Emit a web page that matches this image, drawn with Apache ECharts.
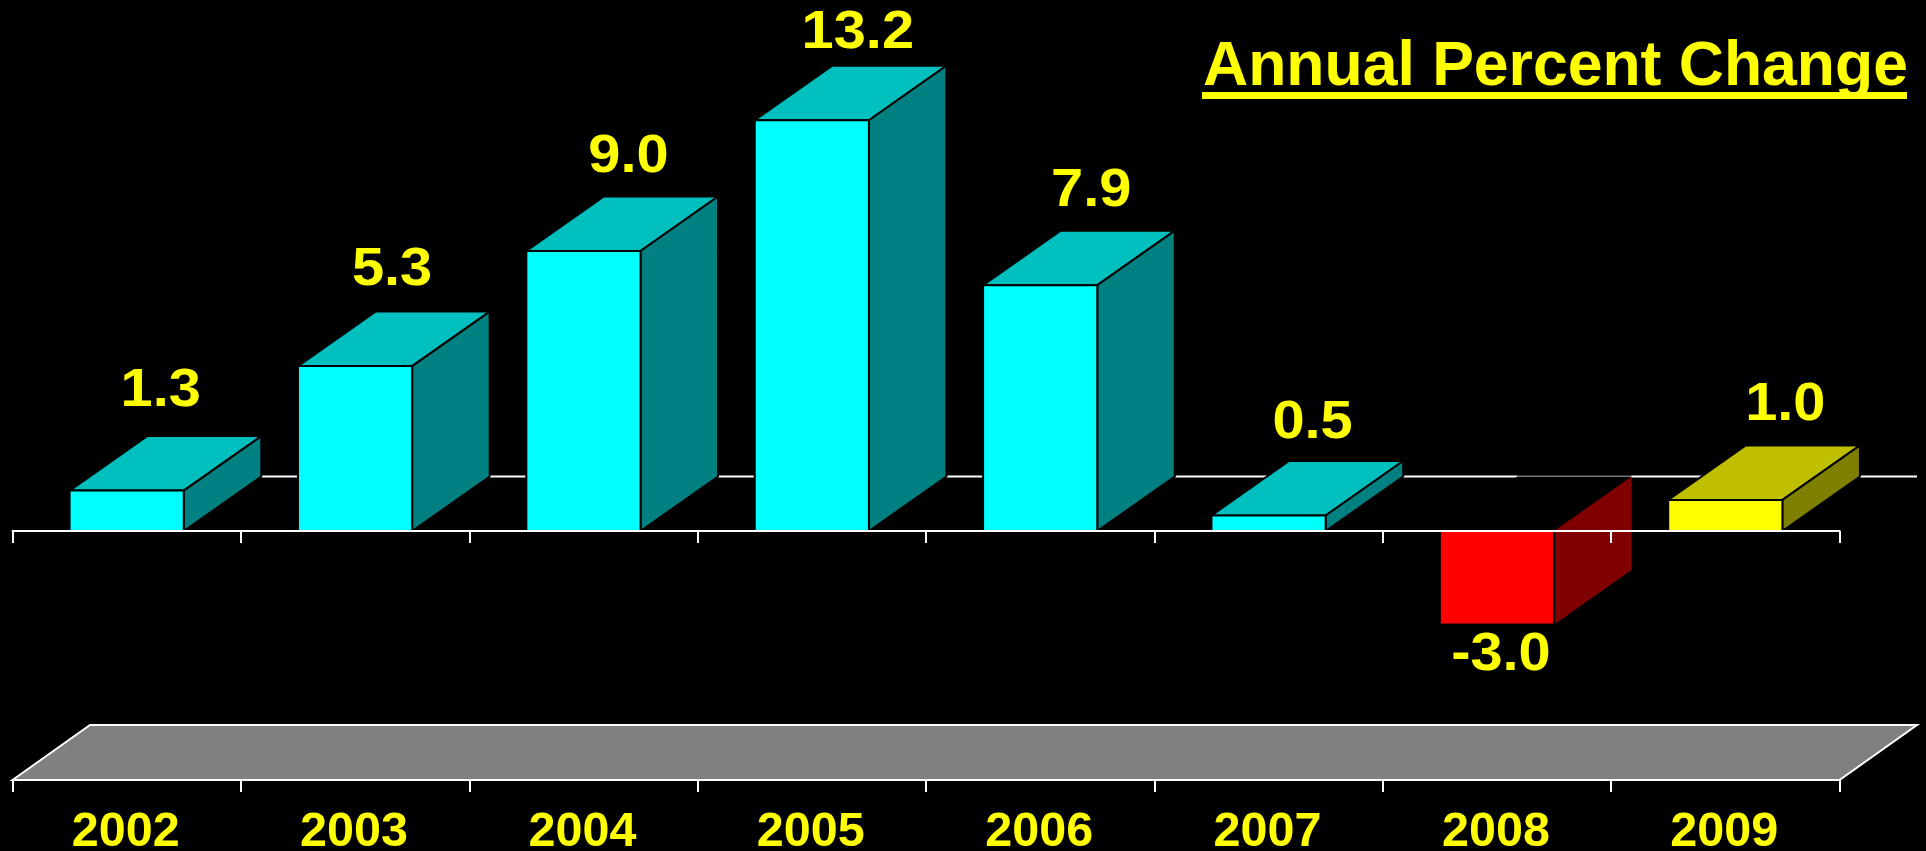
<!DOCTYPE html>
<html>
<head>
<meta charset="utf-8">
<style>html,body{margin:0;padding:0;background:#000;overflow:hidden}#c{width:1926px;height:851px}</style>
<script src="https://cdn.jsdelivr.net/npm/echarts@6/dist/echarts.min.js"></script>
</head>
<body>
<div id="c"></div>
<script>
const years = ['2002','2003','2004','2005','2006','2007','2008','2009'];
const percentChange = [1.3, 5.3, 9.0, 13.2, 7.9, 0.5, -3.0, 1.0];
const yMin = -8;
const yMax = 17;

// layout tweaks, kept apart from the data
const labelShiftX = [34, 37, 45, 46, 51, 44, 4, 60];
const labelGap = [45, 41, 39, 33, 40, 38, 31, 40];
const depthX = 77.5, depthY = 54.5;
const FONT = '"Liberation Sans", Arial, sans-serif';

const palette = {
  up:   {front:'#00FFFF', top:'#00BFBF', side:'#008080'},
  last: {front:'#FFFF00', top:'#BFBF00', side:'#808000'},
  down: {front:'#FF0000', top:'#000000', side:'#800000'}
};

function poly(points, fill, stroke, lw) {
  return {type:'polygon', shape:{points}, style:{fill, stroke, lineWidth:lw, lineJoin:'miter'}};
}

function renderBar(params, api) {
  const i = api.value(0), v = api.value(1);
  const base = api.coord([i, 0]);
  const head = api.coord([i, v]);
  const w = api.size([1, 0])[0] * 0.5;
  const xl = base[0] - w / 2, xr = base[0] + w / 2;
  const hi = Math.min(base[1], head[1]), lo = Math.max(base[1], head[1]);
  const c = v < 0 ? palette.down : (i === years.length - 1 ? palette.last : palette.up);
  const textY = v < 0 ? lo + labelGap[i] : hi - depthY - labelGap[i];
  const children = [
    poly([[xl,hi],[xr,hi],[xr+depthX,hi-depthY],[xl+depthX,hi-depthY]], c.top, v < 0 ? 'transparent' : '#000', 2),
    poly([[xr,lo],[xr+depthX,lo-depthY],[xr+depthX,hi-depthY],[xr,hi]], c.side, v < 0 ? 'transparent' : '#000', 2),
    poly([[xl,hi],[xr,hi],[xr,lo],[xl,lo]], c.front, '#000', 2),
    {type:'text', x:base[0] + labelShiftX[i], y:textY, scaleX:1.07,
     style:{text:v.toFixed(1), fill:'#FFFF00', font:'bold 54px ' + FONT, align:'center', verticalAlign:'middle'}}
  ];
  if (v < 0) {
    children.push({type:'line', shape:{x1:xl+depthX, y1:hi-depthY-1, x2:xr+depthX, y2:hi-depthY-1},
      style:{stroke:'#333333', lineWidth:1}});
  }
  return {type:'group', children};
}

function renderFloor(params, api) {
  const s = params.coordSys;
  const yF = s.y + s.height, xL = s.x, xR = s.x + s.width;
  const zeroY = api.coord([0, 0])[1];
  return {type:'group', children:[
    {type:'line', shape:{x1:xL+depthX, y1:zeroY-depthY, x2:xR+depthX, y2:zeroY-depthY},
     style:{stroke:'#FFFFFF', lineWidth:2}},
    poly([[xL,yF],[xL+depthX,yF-depthY-0.5],[xR+depthX,yF-depthY-0.5],[xR,yF]], '#808080', '#FFFFFF', 2)
  ]};
}

const chart = echarts.init(document.getElementById('c'), null, {renderer:'canvas'});
chart.setOption({
  backgroundColor:'#000000',
  animation:false,
  title:{
    text:'Annual Percent Change', left:1198, top:31,
    textStyle:{color:'#FFFF00', fontFamily:FONT, fontWeight:'bold', fontSize:62.5}
  },
  graphic:[{type:'rect', shape:{x:1202, y:92, width:705, height:7}, style:{fill:'#FFFF00'}, z:10}],
  grid:{left:12.5, width:1827, top:2, height:778, outerBoundsMode:'none'},
  xAxis:[
    {type:'category', data:years, position:'bottom', z:5,
     axisLine:{show:true, onZero:true, lineStyle:{color:'#FFFFFF', width:2}},
     axisTick:{show:true, length:12, lineStyle:{color:'#FFFFFF', width:2}},
     axisLabel:{show:false}, splitLine:{show:false}},
    {type:'category', data:years, position:'bottom', z:5,
     axisLine:{show:true, onZero:false, lineStyle:{color:'#FFFFFF', width:2}},
     axisTick:{show:true, length:12, lineStyle:{color:'#FFFFFF', width:2}},
     axisLabel:{show:true, color:'#FFFF00', fontFamily:FONT, fontWeight:'bold', fontSize:48.5, margin:28, padding:[0,2,0,0]},
     splitLine:{show:false}}
  ],
  yAxis:{type:'value', min:yMin, max:yMax, show:false, splitLine:{show:false}},
  series:[
    {type:'custom', z:1, silent:true, xAxisIndex:0, renderItem:renderFloor, data:[[0, 0]], clip:false},
    {type:'custom', z:2, silent:true, xAxisIndex:0, renderItem:renderBar,
     encode:{x:0, y:1}, clip:false,
     data:percentChange.map((v, i) => [i, v])}
  ]
});
</script>
</body>
</html>
